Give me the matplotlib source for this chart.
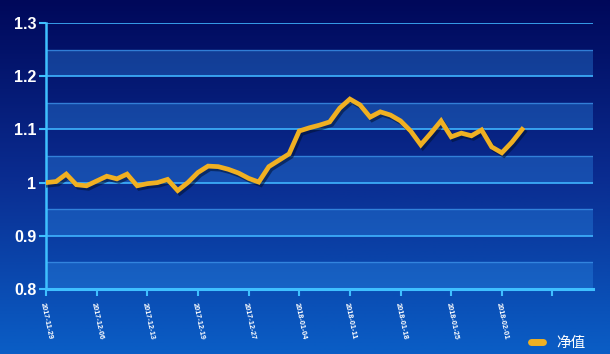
import numpy as np
import matplotlib
matplotlib.use("Agg")
import matplotlib.pyplot as plt
from matplotlib.lines import Line2D
import matplotlib.patheffects as pe
from matplotlib.colors import LinearSegmentedColormap

# ---- data ----
values = [1.000, 1.002, 1.016, 0.996, 0.994, 1.003, 1.012, 1.007, 1.016, 0.994,
          0.998, 1.000, 1.006, 0.985, 1.000, 1.019, 1.031, 1.030, 1.025, 1.018,
          1.008, 1.001, 1.030, 1.042, 1.054, 1.097, 1.103, 1.108, 1.114, 1.140,
          1.157, 1.146, 1.123, 1.133, 1.127, 1.116, 1.097, 1.071, 1.093, 1.116,
          1.086, 1.093, 1.088, 1.099, 1.067, 1.056, 1.076, 1.100]
tick_labels = ["2017-11-29", "2017-12-06", "2017-12-13", "2017-12-19", "2017-12-27",
               "2018-01-04", "2018-01-11", "2018-01-18", "2018-01-25", "2018-02-01", ""]
n_categories = 55
label_step = 5
y_ticks = [0.8, 0.9, 1.0, 1.1, 1.2, 1.3]
y_tick_labels = ["0.8", "0.9", "1", "1.1", "1.2", "1.3"]
series_name = "净值"

W, H = 610, 354
fig = plt.figure(figsize=(W / 100, H / 100), dpi=100)

# background gradient
bg = fig.add_axes([0, 0, 1, 1])
bg.set_axis_off()
cmap = LinearSegmentedColormap.from_list("bgc", ["#00085a", "#0a2c90", "#0a5ec6"])
grad = np.linspace(0, 1, 256).reshape(-1, 1)
bg.imshow(grad, aspect="auto", cmap=cmap, extent=[0, 1, 0, 1], origin="upper")
bg.set_xlim(0, 1)
bg.set_ylim(0, 1)

left, right = 46 / W, 593 / W
bottom, top = 1 - 289 / H, 1 - 23 / H
ax = fig.add_axes([left, bottom, right - left, top - bottom])
ax.patch.set_alpha(0)

x = np.arange(len(values))
ax.set_xlim(0, n_categories - 1)
ax.set_ylim(0.8, 1.3)

# alternating bands
for lo in [0.8, 0.9, 1.0, 1.1, 1.2]:
    ax.axhspan(lo + 0.0, lo + 0.05, color="#2e8ae6", alpha=0.36, lw=0, zorder=0.5)
for yv in [0.85, 0.95, 1.05, 1.15, 1.25]:
    ax.axhline(yv, color="#3a8ee6", lw=1.0, alpha=0.8, zorder=0.6)
for yv in [0.9, 1.0, 1.1, 1.2, 1.3]:
    ax.axhline(yv, color="#3fb4ff", lw=1.2, zorder=0.7)

ax.plot(x, values, color="#f0b022", lw=3.4, solid_joinstyle="miter", zorder=3,
        path_effects=[pe.SimpleLineShadow(offset=(1.5, -1.8), shadow_color="#001030", alpha=0.55),
                      pe.Normal()])

for s in ["top", "right"]:
    ax.spines[s].set_visible(False)
ax.spines["left"].set_color("#3fc0ff")
ax.spines["left"].set_linewidth(1.8)
ax.spines["bottom"].set_color("#3fc0ff")
ax.spines["bottom"].set_linewidth(2.2)

ax.set_yticks(y_ticks)
ax.set_yticklabels(y_tick_labels, fontsize=11.5, fontweight="bold", color="white",
                   family="Liberation Sans")
ax.tick_params(axis="y", colors="#3fc0ff", length=5, width=1.5, pad=2, labelcolor="white")

xt = np.arange(0, n_categories, label_step)[:len(tick_labels)]
ax.set_xticks(xt)
ax.set_xticklabels(tick_labels, rotation=-78, ha="left", va="top", rotation_mode="anchor",
                   fontsize=5.3, fontweight="bold", color="white", family="Liberation Sans")
ax.tick_params(axis="x", colors="#3fc0ff", length=5, width=1.5, pad=4, labelcolor="white")

h = Line2D([], [], color="#f0b022", lw=5, solid_capstyle="round")
leg = fig.legend([h], [series_name], loc="center left", bbox_to_anchor=(524 / W, 1 - 343 / H),
                 frameon=False, handlelength=0.8, handletextpad=0.9, borderpad=0,
                 prop={"family": ["Noto Sans CJK SC", "DejaVu Sans"], "size": 10.5})
for t in leg.get_texts():
    t.set_color("white")

fig.savefig("out.png", dpi=100)
